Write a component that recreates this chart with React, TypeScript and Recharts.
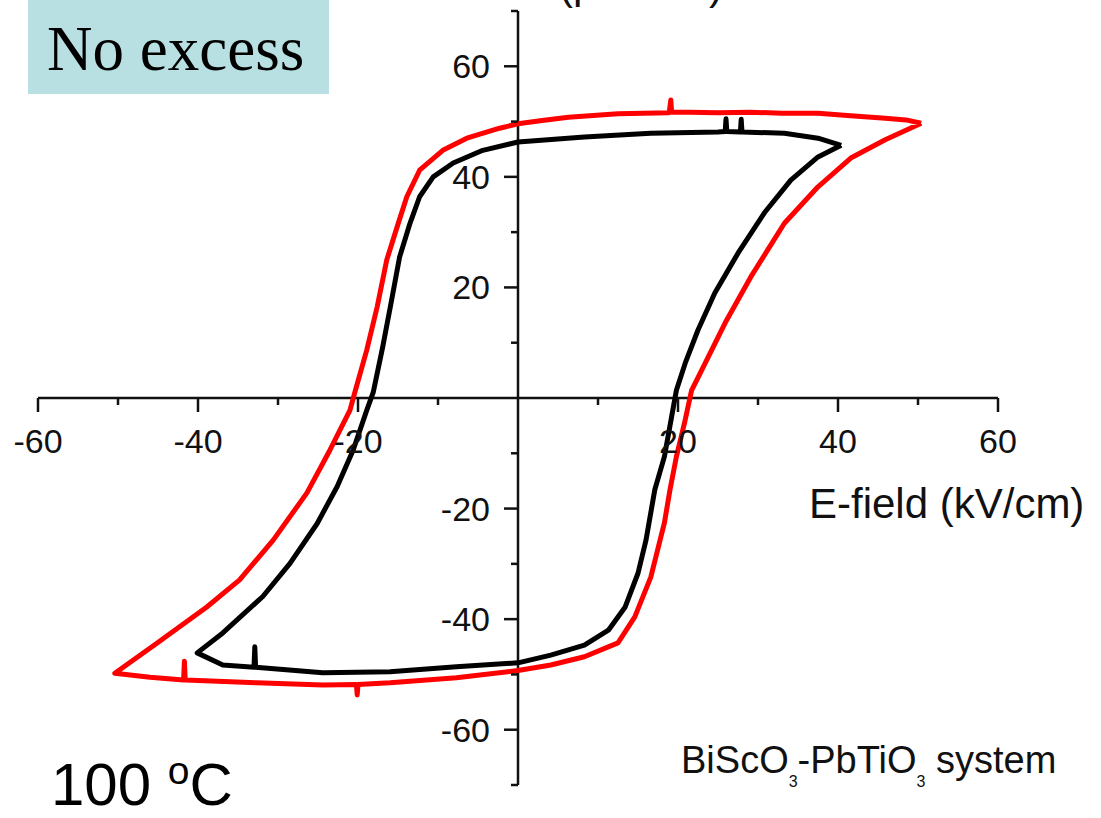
import React from "react"
import { LineChart, Line, XAxis, YAxis, ReferenceLine, ReferenceDot } from "recharts"

// P–E hysteresis loops, [E (kV/cm), P (μC/cm²)] pairs traced around each loop
const redDown = [
  [50.4, 49.7], [48.5, 50.3], [45.9, 50.6], [42, 51.0], [37.5, 51.5], [33, 51.5],
  [29, 51.7], [25, 51.6], [21.5, 51.7], [19.2, 51.7], [19.1, 53.9], [18.9, 51.6],
  [12.5, 51.4], [6.3, 50.8], [3, 50.2], [0, 49.6], [-2.3, 48.8], [-6.4, 47.0],
  [-9.4, 44.8], [-12.3, 41.2], [-13.9, 36.4], [-15.1, 31.0], [-16.4, 25.0],
  [-17.6, 16.5], [-18.9, 8.7], [-20.4, 1.0], [-21.0, -2.2], [-23.5, -9.4],
  [-26.4, -17.2], [-30.6, -25.7], [-34.8, -32.9], [-38.9, -37.8], [-45.1, -44.3],
  [-50.4, -49.8],
]
const redUp = [
  [-50.4, -49.8], [-46, -50.5], [-41.8, -51.0], [-41.7, -47.6], [-41.6, -51.0],
  [-32.7, -51.5], [-24.4, -51.9], [-20.2, -51.8], [-20.1, -53.7], [-20.0, -51.8],
  [-16, -51.5], [-7.7, -50.6], [0, -49.3], [4.1, -48.3], [8.3, -46.8], [12.5, -44.3],
  [14.6, -39.6], [16.6, -32.4], [18.3, -22.6], [19.0, -16.6], [19.8, -10.6],
  [20.8, -4.6], [21.7, 1.4], [23.4, 6.3], [25.9, 13.6], [29.1, 21.9], [33.3, 31.6],
  [37.5, 38.2], [41.6, 43.4], [45.9, 46.7], [50.4, 49.7],
]
const blackDown = [
  [40.4, 45.7], [37.5, 47.0], [33.3, 47.9], [28.0, 48.1], [27.9, 50.4], [27.8, 48.1],
  [26.1, 48.2], [26.0, 50.5], [25.9, 48.2], [25, 48.1], [16.6, 47.9], [8.3, 47.2],
  [0, 46.3], [-4.4, 44.8], [-8.1, 42.5], [-10.6, 40.0], [-12.3, 36.4], [-13.5, 31.6],
  [-14.8, 25.5], [-15.8, 17.7], [-16.9, 9.3], [-18.1, 1.0], [-18.9, -2.2],
  [-20.6, -9.4], [-22.6, -16.0], [-25.1, -22.7], [-28.5, -29.9], [-31.9, -35.9],
  [-36.9, -42.5], [-40.1, -46.1],
]
const blackUp = [
  [-40.1, -46.1], [-36.9, -48.3], [-33.0, -48.7], [-32.9, -45.0], [-32.8, -48.7],
  [-24.4, -49.7], [-16, -49.5], [-7.7, -48.6], [0, -47.9], [4.1, -46.5], [8.3, -44.7],
  [11.3, -42.0], [13.4, -37.8], [15.0, -31.7], [16.0, -25.7], [17.1, -16.6],
  [18.3, -10.6], [19.8, 1.4], [20.9, 6.3], [22.5, 12.3], [24.6, 19.0], [27.5, 26.2],
  [30.8, 33.5], [34.1, 39.4], [37.5, 43.6], [40.4, 45.7],
]

const xMajor = [-60, -40, -20, 20, 40, 60]
const xMinor = [-50, -30, -10, 10, 30, 50]
const yMajor = [60, 40, 20, -20, -40, -60]
const yMinor = [70, 50, 30, 10, -10, -30, -50, -70]

const toPoints = (rows: number[][]) => rows.map(([e, p]) => ({ e, p }))
const redLoop = toPoints([...redDown, ...redUp.slice(1)])
const blackLoop = toPoints([...blackDown, ...blackUp.slice(1)])

const SANS = "Arial, 'Liberation Sans', sans-serif"
const INK = "#111"

function xTick(label: string | null, len: number) {
  return (props: any) => (
    <g>
      <line x1={props.cx} y1={props.cy} x2={props.cx} y2={props.cy + len} stroke={INK} strokeWidth={2.5} />
      {label && (
        <text x={props.cx} y={props.cy + 55} textAnchor="middle" fontFamily={SANS} fontSize={34} fill={INK}>
          {label}
        </text>
      )}
    </g>
  )
}

function yTick(label: string | null, len: number) {
  return (props: any) => (
    <g>
      <line x1={props.cx - len} y1={props.cy} x2={props.cx} y2={props.cy} stroke={INK} strokeWidth={2.5} />
      {label && (
        <text x={props.cx - 28} y={props.cy + 12} textAnchor="end" fontFamily={SANS} fontSize={34} fill={INK}>
          {label}
        </text>
      )}
    </g>
  )
}

export default function App() {
  return (
    <div style={{ position: "absolute", left: 0, top: 0, width: 1101, height: 818, background: "#fff" }}>
      <LineChart width={1101} height={818} margin={{ top: 11, right: 103, bottom: 33, left: 38 }}>
        <XAxis type="number" dataKey="e" domain={[-60, 60]} allowDataOverflow hide />
        <YAxis type="number" dataKey="p" domain={[-70, 70]} allowDataOverflow hide />
        <ReferenceLine y={0} stroke={INK} strokeWidth={2.5} />
        <ReferenceLine x={0} stroke={INK} strokeWidth={2.5} />
        {xMajor.map((v) => (
          <ReferenceDot key={`xM${v}`} x={v} y={0} shape={xTick(String(v), 14)} />
        ))}
        {xMinor.map((v) => (
          <ReferenceDot key={`xm${v}`} x={v} y={0} shape={xTick(null, 7)} />
        ))}
        {yMajor.map((v) => (
          <ReferenceDot key={`yM${v}`} x={0} y={v} shape={yTick(String(v), 14)} />
        ))}
        {yMinor.map((v) => (
          <ReferenceDot key={`ym${v}`} x={0} y={v} shape={yTick(null, 7)} />
        ))}
        <Line data={redLoop} dataKey="p" type="linear" stroke="#ff0000" strokeWidth={5}
          strokeLinejoin="round" dot={false} activeDot={false} isAnimationActive={false} />
        <Line data={blackLoop} dataKey="p" type="linear" stroke="#000" strokeWidth={5}
          strokeLinejoin="round" dot={false} activeDot={false} isAnimationActive={false} />
      </LineChart>
      <svg width={1101} height={818} style={{ position: "absolute", left: 0, top: 0, pointerEvents: "none" }}>
        <rect x={28} y={0} width={301} height={94} fill="#b8e0e3" />
        <text x={47} y={70} fontFamily="'Liberation Serif', 'Times New Roman', serif" fontSize={63} fill="#000">
          No excess
        </text>
        <text x={520} y={-1} fontFamily={SANS} fontSize={42} fill={INK}>P (μC/cm²)</text>
        <text x={809} y={518} fontFamily={SANS} fontSize={42} fill={INK}>E-field (kV/cm)</text>
        <text x={51} y={805} fontFamily={SANS} fontSize={60} fill="#000">
          100 <tspan fontSize={39} dy={-21}>o</tspan><tspan dy={21}>C</tspan>
        </text>
        <text x={681} y={773} fontFamily={SANS} fontSize={38} fill={INK}>
          BiScO<tspan fontSize={16} dy={14}>3</tspan><tspan dy={-14}>-PbTiO</tspan>
          <tspan fontSize={16} dy={14}>3</tspan><tspan dy={-14}> system</tspan>
        </text>
      </svg>
    </div>
  )
}
